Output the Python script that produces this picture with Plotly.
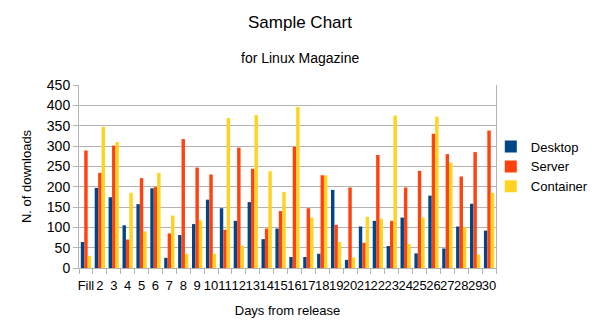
import plotly.graph_objects as go

categories = ["Fill"] + [str(i) for i in range(2, 31)]
desktop = [64, 197, 174, 105, 157, 196, 25, 81, 108, 168, 147, 116, 162, 71, 97, 27, 27, 35, 192, 20,
           102, 116, 54, 124, 36, 178, 48, 102, 158, 92]
server = [289, 234, 301, 70, 221, 199, 85, 317, 247, 230, 94, 296, 244, 97, 140, 298, 147, 228, 106, 198,
          62, 278, 116, 198, 239, 330, 280, 225, 285, 338]
container = [30, 347, 310, 185, 90, 234, 129, 35, 117, 35, 369, 55, 376, 238, 187, 396, 124, 228, 64, 26,
             126, 121, 375, 59, 124, 372, 259, 100, 33, 185]

FONT = "Liberation Sans, Arial, sans-serif"

fig = go.Figure()
fig.add_trace(go.Bar(name="Desktop", x=categories, y=desktop, marker_color="#004586", marker_line_width=0))
fig.add_trace(go.Bar(name="Server", x=categories, y=server, marker_color="#ff420e", marker_line_width=0))
fig.add_trace(go.Bar(name="Container", x=categories, y=container, marker_color="#ffd320", marker_line_width=0))

fig.update_layout(
    width=600, height=333,
    margin=dict(l=79, r=104, t=85, b=65, autoexpand=False),
    paper_bgcolor="white", plot_bgcolor="white",
    font=dict(family=FONT, color="black", size=13),
    barmode="group", bargap=0.26, bargroupgap=0,
    showlegend=True,
    legend=dict(xref="container", yref="container", x=0.818, y=0.605, xanchor="left", yanchor="top",
                font=dict(size=13), itemwidth=30, tracegroupgap=0, bgcolor="rgba(0,0,0,0)"),
)
fig.add_annotation(text="Sample Chart", xref="paper", yref="paper", x=(300 - 79) / 417, y=(268 - 22) / 183,
                   showarrow=False, font=dict(size=17), xanchor="center", yanchor="middle")
fig.add_annotation(text="for Linux Magazine", xref="paper", yref="paper", x=(300 - 79) / 417, y=(268 - 58) / 183,
                   showarrow=False, font=dict(size=14), xanchor="center", yanchor="middle")

fig.update_xaxes(
    type="category", tickmode="linear", dtick=1, tickson="boundaries", ticks="outside", ticklen=5,
    tickcolor="#b3b3b3", showline=True, linecolor="#b3b3b3", linewidth=1, showgrid=False,
    tickfont=dict(size=13), tickangle=0, ticklabelstandoff=5,
    title=dict(text="Days from release", font=dict(size=13), standoff=14),
)
fig.update_yaxes(
    range=[0, 450], dtick=50, tick0=0, ticks="outside", ticklen=5, tickcolor="#b3b3b3",
    showline=True, linecolor="#b3b3b3", linewidth=1, mirror=True,
    showgrid=True, gridcolor="#b3b3b3", gridwidth=1, zeroline=False,
    tickfont=dict(size=14),
    title=dict(text="N. of downloads", font=dict(size=13), standoff=12),
)

fig.write_html("out.html")
